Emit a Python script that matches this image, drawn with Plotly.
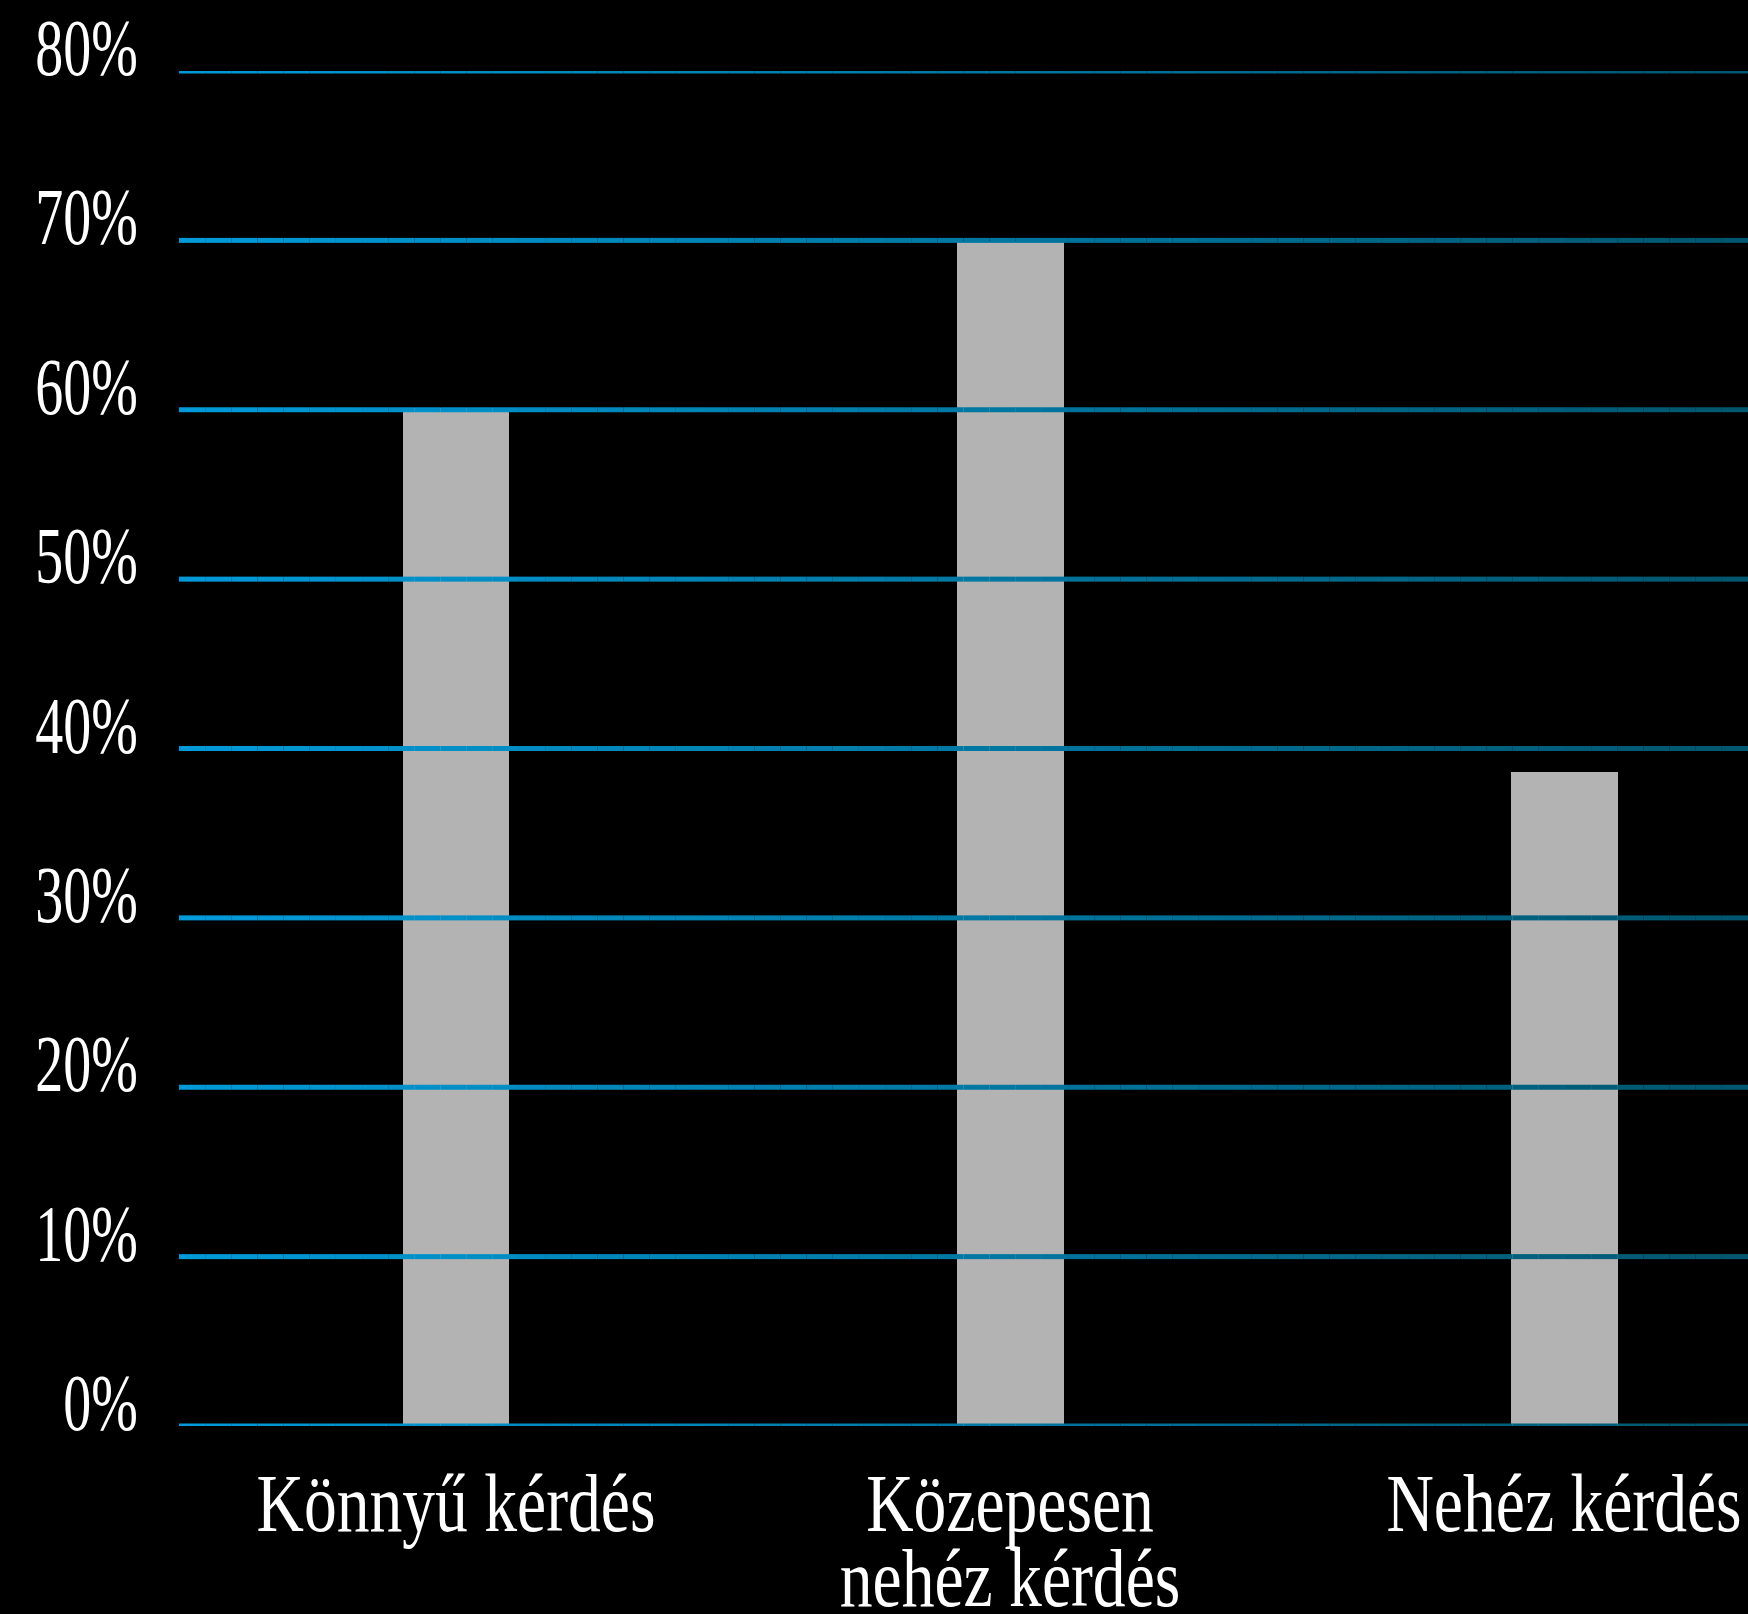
import plotly.graph_objects as go

categories = ["Könnyű kérdés", "Közepesen<br>nehéz kérdés", "Nehéz kérdés"]
values = [60.1, 69.9, 38.6]
y_ticks = [0, 10, 20, 30, 40, 50, 60, 70, 80]
y_tick_labels = [f"{v}%" for v in y_ticks]

BAR_COLOR = "#b3b3b3"
GRID_LEFT = (0, 155, 218)
GRID_RIGHT = (0, 86, 110)
N_SEG = 60

fig = go.Figure()
fig.add_trace(go.Bar(
    x=list(range(len(categories))), y=values,
    marker=dict(color=BAR_COLOR, line=dict(width=0)),
    width=0.193, hoverinfo="skip",
))

# gradient gridlines, drawn above the bars
for v in y_ticks:
    for i in range(N_SEG):
        t = (i + 0.5) / N_SEG
        c = tuple(round(a + (b - a) * t) for a, b in zip(GRID_LEFT, GRID_RIGHT))
        fig.add_shape(type="line", xref="paper", yref="y",
                      x0=i / N_SEG, x1=(i + 1) / N_SEG, y0=v, y1=v,
                      line=dict(color=f"rgb{c}", width=5), layer="above")

fig.update_layout(
    width=1748, height=1614,
    margin=dict(l=179, r=0, t=71, b=188, autoexpand=False),
    paper_bgcolor="black", plot_bgcolor="black",
    showlegend=False, bargap=0,
    font=dict(family="Liberation Serif, Times New Roman, serif", color="white"),
)
fig.update_yaxes(
    range=[0, 80], tickvals=y_ticks, ticktext=y_tick_labels,
    showgrid=False, zeroline=False, showline=False, ticks="",
    tickfont=dict(size=80, color="white"), automargin=False,
    ticklabelstandoff=40, ticklabelshift=-24, ticklabeloverflow="allow",
)
fig.update_xaxes(
    range=[-0.5, 2.332], tickvals=list(range(len(categories))), ticktext=categories,
    showgrid=False, zeroline=False, showline=False, ticks="",
    tickfont=dict(size=82, color="white"), tickangle=0, automargin=False,
    ticklabelstandoff=22, ticklabeloverflow="allow",
)

post = """
document.documentElement.style.margin = '0';
document.documentElement.style.background = 'black';
document.body.style.margin = '0';
document.body.style.background = 'black';
document.body.style.overflow = 'hidden';
var gd = document.getElementById('{plot_id}');
function sq(t, sx){
  if (t.getAttribute('data-sq')) return;
  var x = parseFloat(t.getAttribute('x')) || 0;
  var tr = t.getAttribute('transform') || '';
  t.setAttribute('transform', tr + ' translate(' + x + ',0) scale(' + sx + ',1) translate(' + (-x) + ',0)');
  t.setAttribute('data-sq', '1');
}
function squeeze(){
  gd.querySelectorAll('.ytick text').forEach(function(t){ sq(t, 0.70); });
  gd.querySelectorAll('.xtick text').forEach(function(t){
    sq(t, 0.80);
    t.querySelectorAll('tspan.line').forEach(function(s, i){ if (i > 0) s.setAttribute('dy', '0.92em'); });
  });
}
squeeze();
gd.on('plotly_afterplot', squeeze);
"""

fig.write_html("out.html", post_script=post, config={"displayModeBar": False})
